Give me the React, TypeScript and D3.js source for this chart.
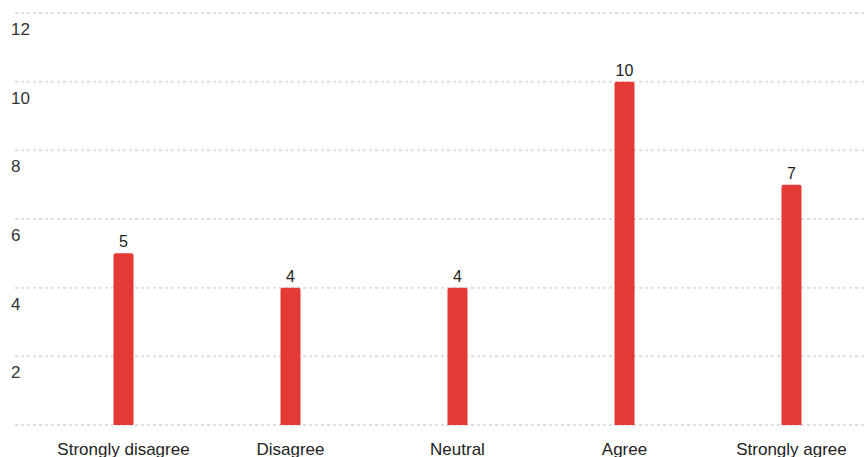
import React from "react";
import * as d3 from "d3";

const categories = ["Strongly disagree", "Disagree", "Neutral", "Agree", "Strongly agree"];
const counts = [5, 4, 4, 10, 7];
const yTicks = [0, 2, 4, 6, 8, 10, 12];

const W = 866;
const H = 457;
const FONT = "Arial, 'Liberation Sans', Helvetica, sans-serif";

export default function App() {
  const x = d3.scaleBand<string>().domain(categories).range([40, 875]).padding(0);
  const y = d3.scaleLinear().domain([0, 12]).range([425, 13]);
  const barW = 20;
  const r = 2;

  // Bar with slightly rounded top corners
  const barPath = (cx: number, top: number, bottom: number) => {
    const p = d3.path();
    const x0 = cx - barW / 2;
    const x1 = cx + barW / 2;
    p.moveTo(x0, bottom);
    p.lineTo(x0, top + r);
    p.quadraticCurveTo(x0, top, x0 + r, top);
    p.lineTo(x1 - r, top);
    p.quadraticCurveTo(x1, top, x1, top + r);
    p.lineTo(x1, bottom);
    p.closePath();
    return p.toString();
  };

  return (
    <svg
      width={W}
      height={H}
      style={{ position: "absolute", left: 0, top: 0, background: "#fff" }}
      fontFamily={FONT}
    >
      {yTicks.map((t) => (
        <g key={t}>
          <line
            x1={15}
            x2={W}
            y1={y(t)}
            y2={y(t)}
            stroke="#dedede"
            strokeWidth={2}
            strokeDasharray="3,3"
          />
          {t > 0 && (
            <text x={11} y={y(t) + 22} fontSize={17} fill="#333">
              {t}
            </text>
          )}
        </g>
      ))}
      {categories.map((c, i) => {
        const cx = (x(c) as number) + x.bandwidth() / 2;
        return (
          <g key={c}>
            <path d={barPath(cx, y(counts[i]), y(0))} fill="#e53935" />
            <text x={cx} y={y(counts[i]) - 6} textAnchor="middle" fontSize={16} fill="#222">
              {counts[i]}
            </text>
            <text x={cx} y={455} textAnchor="middle" fontSize={17} fill="#222">
              {c}
            </text>
          </g>
        );
      })}
    </svg>
  );
}
